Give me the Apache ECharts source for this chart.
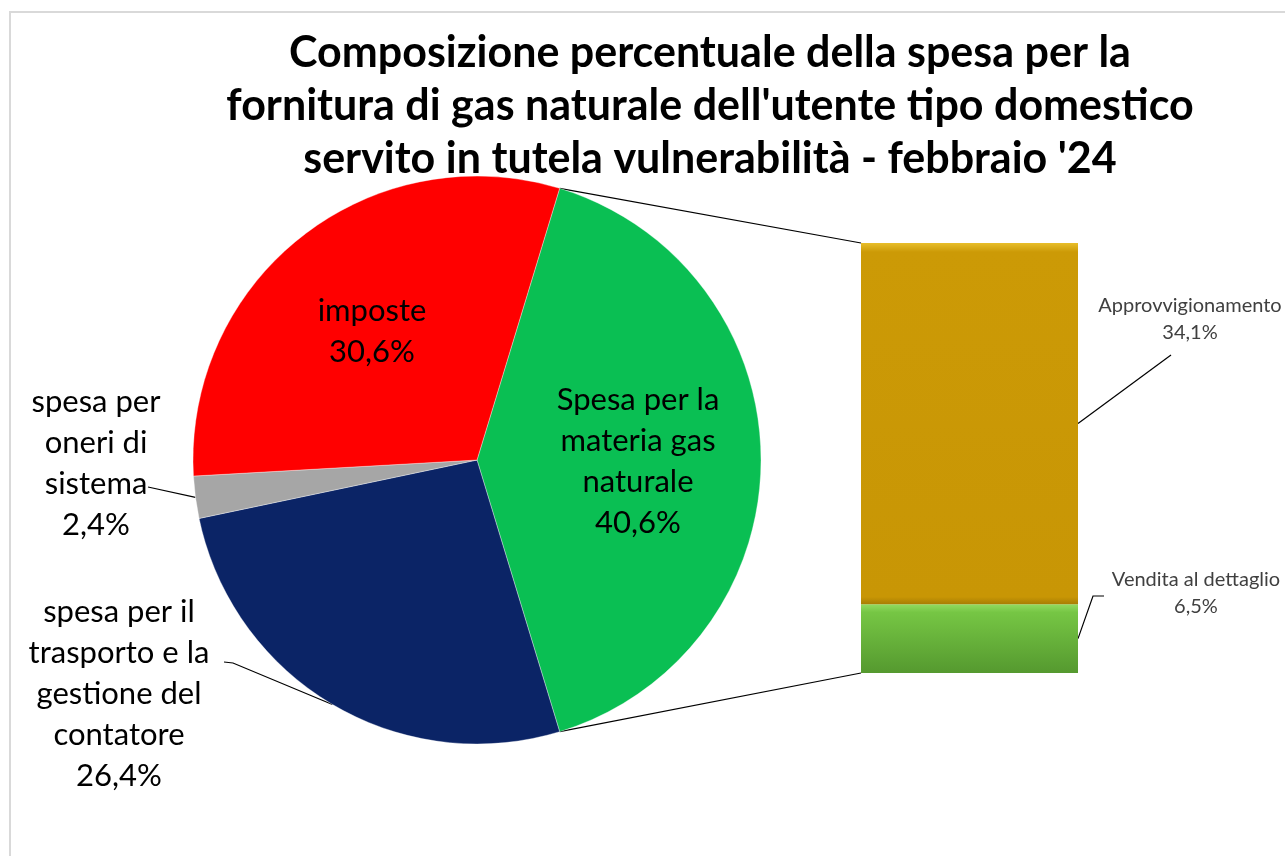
<!DOCTYPE html>
<html>
<head>
<meta charset="utf-8">
<script src="https://cdn.jsdelivr.net/npm/echarts@6/dist/echarts.min.js"></script>
<style>
  html, body { margin: 0; padding: 0; background: #fff; }
  #main { width: 1285px; height: 856px; }
</style>
</head>
<body>
<div id="main"></div>
<script>
// composizione spesa (%)
const pieNames = [
  'Spesa per la\nmateria gas\nnaturale',
  'spesa per il\ntrasporto e la\ngestione del\ncontatore',
  'spesa per\noneri di\nsistema',
  'imposte'
]
const pieValues = [40.6, 26.4, 2.4, 30.6]
const pieColors = ['#0ABF53', '#0B2466', '#A6A6A6', '#FF0000']

// dettaglio della materia gas naturale
const barNames = ['Vendita al dettaglio', 'Approvvigionamento']
const barValues = [6.5, 34.1]

const fontFamily = 'Lato, "Open Sans", sans-serif'

const pieCenter = [477, 460]
const pieRadius = 284
const matTotal = pieValues[0]
const startAngle = (matTotal / 100) * 360 / 2

// where each label goes
const pieLabelPos = [
  { x: 638, y: 461 },
  { x: 119, y: 694, end: [224, 662], knee: [233, 663] },
  { x: 96, y: 463, end: [148, 487] },
  { x: 372, y: 331 }
]
const barLabelPos = [
  { x: 1196, y: 593, knee: [1093, 596], end: [1104, 596] },
  { x: 1190, y: 319, end: [1171, 355] }
]

const fmtPct = v => v.toFixed(1).replace('.', ',') + '%'

const myChart = echarts.init(document.getElementById('main'))

myChart.setOption({
  animation: false,
  title: {
    text: 'Composizione percentuale della spesa per la\nfornitura di gas naturale dell\'utente tipo domestico\nservito in tutela vulnerabilità - febbraio \'24',
    left: 705,
    top: 22,
    textAlign: 'center',
    textStyle: {
      fontFamily: fontFamily,
      fontWeight: 'bold',
      fontSize: 43,
      lineHeight: 53,
      color: '#000'
    }
  },
  grid: {
    left: 861,
    top: 243,
    width: 217,
    height: 430
  },
  xAxis: {
    type: 'category',
    data: ['materia'],
    show: false
  },
  yAxis: {
    type: 'value',
    min: 0,
    max: matTotal,
    show: false
  },
  series: [
    {
      type: 'pie',
      center: pieCenter,
      radius: pieRadius,
      startAngle: startAngle,
      clockwise: true,
      avoidLabelOverlap: false,
      itemStyle: {
        borderColor: 'rgba(255,255,255,0.35)',
        borderWidth: 1
      },
      label: {
        position: 'outside',
        fontFamily: fontFamily,
        fontSize: 31,
        lineHeight: 41,
        color: '#000',
        align: 'center',
        formatter: p => p.name + '\n' + fmtPct(p.value)
      },
      labelLine: {
        show: true,
        lineStyle: { color: '#000', width: 1.2 }
      },
      labelLayout: function (params) {
        const pos = pieLabelPos[params.dataIndex]
        const out = { x: pos.x, y: pos.y, align: 'center', verticalAlign: 'middle' }
        if (pos.end && params.labelLinePoints) {
          const edge = params.labelLinePoints[0]
          out.labelLinePoints = pos.knee ? [edge, pos.knee, pos.end] : [edge, pos.end, pos.end]
        }
        return out
      },
      data: pieNames.map((n, i) => ({
        name: n,
        value: pieValues[i],
        itemStyle: { color: pieColors[i] },
        label: (i === 0 || i === 3) ? { position: 'inside' } : undefined,
        labelLine: (i === 0 || i === 3) ? { show: false } : undefined
      }))
    },
    ...barNames.map((n, i) => ({
      type: 'bar',
      name: n,
      stack: 'materia',
      barWidth: '100%',
      data: [barValues[i]],
      itemStyle: {
        color: i === 0
          ? new echarts.graphic.LinearGradient(0, 0, 0, 1, [
              { offset: 0, color: '#93DB60' },
              { offset: 0.12, color: '#76C644' },
              { offset: 1, color: '#55992F' }
            ])
          : new echarts.graphic.LinearGradient(0, 0, 0, 1, [
              { offset: 0, color: '#E8BE2A' },
              { offset: 0.025, color: '#CC9A06' },
              { offset: 0.98, color: '#C89605' },
              { offset: 1, color: '#A87E04' }
            ])
      },
      label: {
        show: true,
        fontFamily: fontFamily,
        fontSize: 20,
        lineHeight: 27,
        color: '#404040',
        align: 'center',
        formatter: p => n + '\n' + fmtPct(p.value)
      },
      labelLayout: function () {
        const pos = barLabelPos[i]
        return { x: pos.x, y: pos.y, align: 'center', verticalAlign: 'middle' }
      }
    }))
  ]
})

// connector lines between the materia slice and the bar, and bar leader lines
const deg = startAngle * Math.PI / 180
const slTop = [pieCenter[0] + pieRadius * Math.cos(deg), pieCenter[1] - pieRadius * Math.sin(deg)]
const slBot = [pieCenter[0] + pieRadius * Math.cos(deg), pieCenter[1] + pieRadius * Math.sin(deg)]
const barTop = myChart.convertToPixel({ gridIndex: 0 }, ['materia', matTotal])
const barBot = myChart.convertToPixel({ gridIndex: 0 }, ['materia', 0])
const barLeft = barTop[0] - 217 / 2
const barRight = barTop[0] + 217 / 2

const line = pts => ({
  type: 'polyline',
  shape: { points: pts },
  style: { stroke: '#000', lineWidth: 1.2, fill: 'none' },
  silent: true
})

let acc = 0
const leaders = barValues.map((v, i) => {
  const midY = myChart.convertToPixel({ gridIndex: 0 }, ['materia', acc + v / 2])[1]
  acc += v
  const pos = barLabelPos[i]
  return line(pos.knee ? [[barRight, midY], pos.knee, pos.end] : [[barRight, midY], pos.end])
})

myChart.setOption({
  graphic: [
    {
      type: 'rect',
      shape: { x: 10, y: 12, width: 1400, height: 1000 },
      style: { fill: 'none', stroke: '#d9d9d9', lineWidth: 2 },
      silent: true
    },
    line([slTop, [barLeft, barTop[1]]]),
    line([slBot, [barLeft, barBot[1]]]),
    ...leaders
  ]
})
</script>
</body>
</html>
